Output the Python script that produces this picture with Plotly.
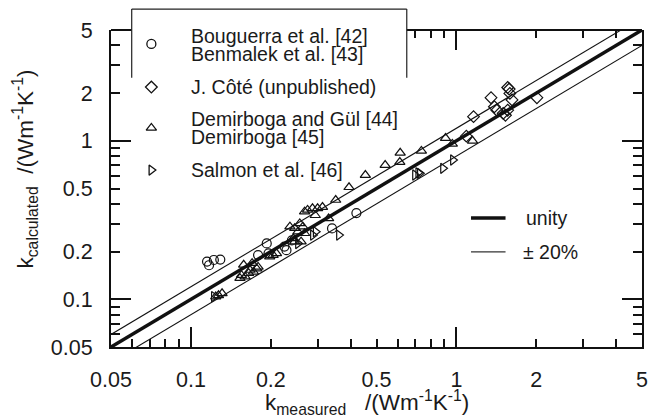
import math
import plotly.graph_objects as go

# ---------------- data ----------------
bouguerra_x = [0.115, 0.117, 0.122, 0.129, 0.179, 0.193, 0.196, 0.225, 0.229, 0.24, 0.34, 0.42]
bouguerra_y = [0.173, 0.164, 0.177, 0.178, 0.19, 0.225, 0.195, 0.215, 0.204, 0.235, 0.28, 0.35]

cote_x = [1.09, 1.16, 1.35, 1.39, 1.56, 1.58, 1.59, 1.62, 1.42, 1.5, 1.53, 1.56, 2.01]
cote_y = [1.07, 1.42, 1.87, 1.64, 2.17, 2.12, 1.99, 1.81, 1.56, 1.49, 1.45, 1.56, 1.87]

demirboga_x = [0.124, 0.127, 0.131, 0.153, 0.155, 0.16, 0.165, 0.167, 0.172, 0.177, 0.158, 0.17, 0.179,
               0.198, 0.204, 0.21, 0.236, 0.246, 0.253, 0.257, 0.264, 0.268, 0.243, 0.246, 0.26,
               0.275, 0.287, 0.30, 0.313, 0.294, 0.268, 0.33, 0.351, 0.394, 0.454, 0.539,
               0.612, 0.614, 0.738, 0.91, 0.965, 1.15]
demirboga_y = [0.104, 0.106, 0.109, 0.136, 0.142, 0.139, 0.146, 0.153, 0.149, 0.156, 0.165, 0.169, 0.16,
               0.186, 0.19, 0.195, 0.287, 0.281, 0.267, 0.301, 0.287, 0.261, 0.242, 0.231, 0.231,
               0.366, 0.375, 0.375, 0.382, 0.339, 0.357, 0.324, 0.423, 0.509, 0.608, 0.703,
               0.734, 0.84, 0.863, 1.04, 0.955, 1.0]

salmon_x = [0.122, 0.253, 0.288, 0.295, 0.361, 0.698, 0.718, 0.728, 0.89, 0.97]
salmon_y = [0.104, 0.225, 0.254, 0.267, 0.254, 0.608, 0.628, 0.623, 0.67, 0.757]

line_x = [0.05, 5.0]
band = 0.2

x_tickvals = [0.05, 0.1, 0.2, 0.5, 1, 2, 5]
x_ticktext = ["0.05", "0.1", "0.2", "0.5", "1", "2", "5"]
y_tickvals = [0.05, 0.1, 0.2, 0.5, 1, 2, 5]
y_ticktext = ["0.05", "0.1", "0.2", "0.5", "1", "2", "5"]
minor_vals = [0.06, 0.07, 0.08, 0.09, 0.3, 0.4, 0.6, 0.7, 0.8, 0.9, 3, 4]
long_vals = [0.1, 1]
top_minor_vals = [0.7, 0.8, 0.9, 2, 3, 4]

legend_names = [["Bouguerra et al. [42]", "Benmalek et al. [43]"],
                ["J. Côté (unpublished)"],
                ["Demirboga and Gül [44]", "Demirboga [45]"],
                ["Salmon et al. [46]"]]
legend_symbols = ["circle-open", "diamond-open", "triangle-up-open", "triangle-right-open"]

# ---------------- figure ----------------
FONT = "Liberation Sans, Arial, Helvetica, sans-serif"
TXT = "#1a1a1a"
rng = [math.log10(0.05), math.log10(5)]

fig = go.Figure()

# reference lines
fig.add_trace(go.Scatter(x=line_x, y=[v * (1 + band) for v in line_x], mode="lines",
                         line=dict(color="#111", width=1.1), showlegend=False, hoverinfo="skip"))
fig.add_trace(go.Scatter(x=line_x, y=[v * (1 - band) for v in line_x], mode="lines",
                         line=dict(color="#111", width=1.1), showlegend=False, hoverinfo="skip"))
fig.add_trace(go.Scatter(x=line_x, y=line_x, mode="lines",
                         line=dict(color="#111", width=3.5), showlegend=False, hoverinfo="skip"))

mk = dict(size=9, color="#111", line=dict(width=1.2, color="#111"))
for xs, ys, sym in [(bouguerra_x, bouguerra_y, "circle-open"),
                    (cote_x, cote_y, "diamond-open"),
                    (demirboga_x, demirboga_y, "triangle-up-open"),
                    (salmon_x, salmon_y, "triangle-right-open")]:
    fig.add_trace(go.Scatter(x=xs, y=ys, mode="markers",
                             marker=dict(symbol=sym, **mk), showlegend=False))

# dummy traces so overlay axes render
for xa, ya in [("x2", "y"), ("x3", "y"), ("x", "y2")]:
    fig.add_trace(go.Scatter(x=[1], y=[1], xaxis=xa, yaxis=ya, mode="markers",
                             marker=dict(opacity=0, size=1), showlegend=False, hoverinfo="skip"))

# legend markers on a linear overlay axis (domain coordinates)
leg_marker_x = 0.076
leg_marker_y = [0.956, 0.820, 0.691, 0.558]
for yy, sym in zip(leg_marker_y, legend_symbols):
    fig.add_trace(go.Scatter(x=[leg_marker_x], y=[yy], xaxis="x4", yaxis="y3", mode="markers",
                             marker=dict(symbol=sym, size=9, color="#111", line=dict(width=1.3, color="#111")),
                             cliponaxis=False, showlegend=False, hoverinfo="skip"))

tick_common = dict(ticks="inside", tickcolor="#111", tickwidth=1.6)

fig.update_layout(
    width=657, height=419,
    margin=dict(l=111, r=9, t=30, b=72),
    paper_bgcolor="white", plot_bgcolor="white",
    font=dict(family=FONT, color=TXT, size=21),
    showlegend=False,
    xaxis=dict(type="log", range=rng, tickmode="array", tickvals=x_tickvals, ticktext=x_ticktext,
               ticklen=8, showline=True, linecolor="#111", linewidth=2, mirror=False,
               showgrid=False, zeroline=False, ticklabelstandoff=12,
               tickfont=dict(size=21.5, color=TXT),
               minor=dict(tickmode="array", tickvals=minor_vals, ticklen=8, showgrid=False, **tick_common),
               **tick_common),
    xaxis2=dict(type="log", range=rng, overlaying="x", anchor="y", side="top",
                tickmode="array", tickvals=[1], ticklen=20, showticklabels=False,
                showline=False, showgrid=False, zeroline=False,
                minor=dict(tickmode="array", tickvals=top_minor_vals, ticklen=8, showgrid=False, **tick_common),
                **tick_common),
    xaxis3=dict(type="log", range=rng, overlaying="x", anchor="y", side="bottom",
                tickmode="array", tickvals=long_vals, ticklen=20, showticklabels=False,
                showline=False, showgrid=False, zeroline=False, **tick_common),
    xaxis4=dict(range=[0, 1], overlaying="x", anchor="y3", visible=False),
    yaxis=dict(type="log", range=rng, tickmode="array", tickvals=y_tickvals, ticktext=y_ticktext,
               ticklen=9, showline=True, linecolor="#111", linewidth=2, mirror="ticks",
               showgrid=False, zeroline=False, ticklabelstandoff=12,
               tickfont=dict(size=21.5, color=TXT),
               minor=dict(tickmode="array", tickvals=minor_vals, ticklen=9, showgrid=False, **tick_common),
               **tick_common),
    yaxis2=dict(type="log", range=rng, overlaying="y", anchor="x", side="left",
                tickmode="array", tickvals=long_vals, ticklen=20, showticklabels=False,
                showline=True, linecolor="#111", linewidth=2, mirror="ticks",
                showgrid=False, zeroline=False, **tick_common),
    yaxis3=dict(range=[0, 1], overlaying="y", anchor="x4", visible=False),
)

# top axis line (interrupted by legend box), legend box lines, unity legend lines
bx0, bx1, by0, by1 = 0.039, 0.557, 0.849, 1.066
shapes = [
    dict(type="line", xref="paper", yref="paper", x0=0, x1=bx0, y0=1, y1=1, line=dict(color="#111", width=2)),
    dict(type="line", xref="paper", yref="paper", x0=bx1, x1=1, y0=1, y1=1, line=dict(color="#111", width=2)),
    dict(type="line", xref="paper", yref="paper", x0=bx0, x1=bx0, y0=by0, y1=by1, line=dict(color="#222", width=1.2)),
    dict(type="line", xref="paper", yref="paper", x0=bx1, x1=bx1, y0=by0, y1=by1, line=dict(color="#222", width=1.2)),
    dict(type="line", xref="paper", yref="paper", x0=bx0, x1=bx1, y0=by1, y1=by1, line=dict(color="#222", width=1.2)),
    dict(type="line", xref="paper", yref="paper", x0=0.678, x1=0.743, y0=0.407, y1=0.407, line=dict(color="#111", width=3.5)),
    dict(type="line", xref="paper", yref="paper", x0=0.678, x1=0.743, y0=0.300, y1=0.300, line=dict(color="#333", width=1.2)),
]
fig.update_layout(shapes=shapes)

ann = []
leg_text_y = [[0.981, 0.924], [0.820], [0.719, 0.662], [0.558]]
for names, ys in zip(legend_names, leg_text_y):
    for nm, yy in zip(names, ys):
        ann.append(dict(x=0.147, y=yy, xref="paper", yref="paper", text=nm, showarrow=False,
                        xanchor="left", yanchor="middle", font=dict(size=19.5, color=TXT, family=FONT)))
ann.append(dict(x=0.778, y=0.407, xref="paper", yref="paper", text="unity", showarrow=False,
                xanchor="left", yanchor="middle", font=dict(size=19.5, color=TXT, family=FONT)))
ann.append(dict(x=0.773, y=0.300, xref="paper", yref="paper", text="± 20%", showarrow=False,
                xanchor="left", yanchor="middle", font=dict(size=19.5, color=TXT, family=FONT)))
ann.append(dict(x=0.286, y=-0.176, xref="paper", yref="paper",
                text="k<sub>measured</sub>\u00a0\u00a0\u00a0/(Wm<sup>-1</sup>K<sup>-1</sup>)", showarrow=False,
                xanchor="left", yanchor="middle", font=dict(size=22.5, color=TXT, family=FONT)))
ann.append(dict(x=-0.162, y=0.563, xref="paper", yref="paper",
                text="k<sub>calculated</sub>" + "\u00a0" * 2 + "/(Wm<sup>-1</sup>K<sup>-1</sup>)", showarrow=False,
                textangle=-90, xanchor="center", yanchor="middle", font=dict(size=22.5, color=TXT, family=FONT)))
fig.update_layout(annotations=ann)

fig.write_html("out.html")
